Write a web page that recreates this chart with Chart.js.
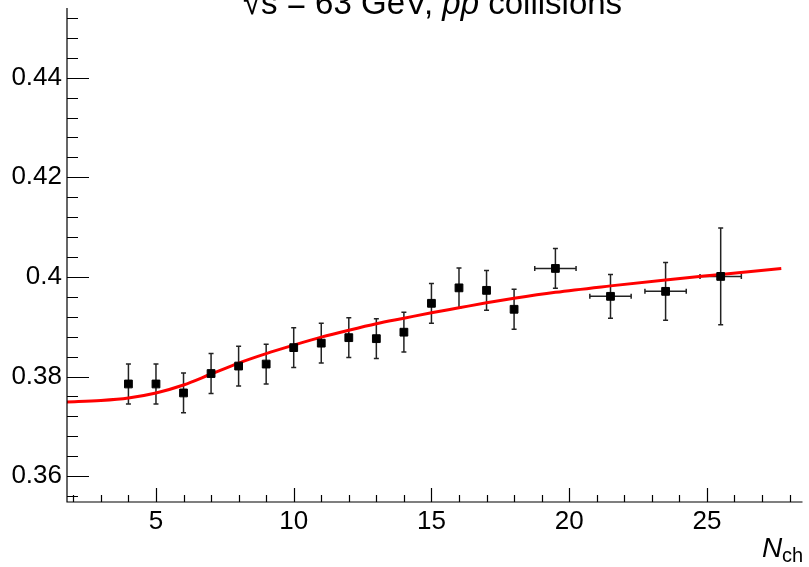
<!DOCTYPE html>
<html>
<head>
<meta charset="utf-8">
<script src="https://cdn.jsdelivr.net/npm/chart.js@4.4.1/dist/chart.umd.min.js"></script>
<style>
  body { margin: 0; background: #fff; }
  canvas { display: block; }
</style>
</head>
<body>
<canvas id="myChart" width="809" height="567"></canvas>
<script>
/*---------------------------------------------------------------*/
/*----------------------------- data ----------------------------*/
/*---------------------------------------------------------------*/
// measured points (N_ch bins)
const nch    = [4, 5, 6, 7, 8, 9, 10, 11, 12, 13, 14, 15, 16, 17, 18, 19.5, 21.5, 23.5, 25.5];
const ratio  = [0.3785, 0.3785, 0.3767, 0.3806, 0.3821, 0.3825, 0.3858, 0.3867, 0.3878, 0.3876,
                0.3889, 0.3947, 0.3978, 0.3973, 0.3935, 0.4017, 0.3961, 0.3971, 0.4001];
const ratioErr = [0.004, 0.004, 0.004, 0.004, 0.004, 0.004, 0.004, 0.004, 0.004, 0.004,
                  0.004, 0.004, 0.004, 0.004, 0.004, 0.004, 0.0044, 0.0058, 0.0097];
const nchErr = [0, 0, 0, 0, 0, 0, 0, 0, 0, 0, 0, 0, 0, 0, 0, 0.75, 0.75, 0.75, 0.75];

// model curve
const fitX = [1.77, 3, 4, 5, 6, 7, 8, 9, 10, 11, 12, 13, 14, 15, 16, 17, 18, 19.5, 21.5, 23.5, 25.5, 27.7];
const fitY = [0.3749, 0.3752, 0.3757, 0.3767, 0.3783, 0.3805, 0.3827, 0.3846, 0.3863,
              0.3879, 0.3893, 0.3906, 0.3917, 0.3928, 0.3938, 0.3948, 0.3957, 0.3969, 0.3982, 0.3994, 0.4005, 0.4017];

// axis labels
const xTicks = [5, 10, 15, 20, 25];
const yTicks = [0.36, 0.38, 0.40, 0.42, 0.44];

const FONT = '"Liberation Sans", Arial, Helvetica, sans-serif';

/*---------------------------------------------------------------*/
/*--------------------------- plugins ---------------------------*/
/*---------------------------------------------------------------*/
// error bars under the markers
const errorBars = {
    id: 'errorBars',
    beforeDatasetsDraw(chart) {
        const ctx = chart.ctx;
        const xs = chart.scales.x, ys = chart.scales.y;
        ctx.save();
        ctx.strokeStyle = '#222';
        ctx.lineWidth = 1.5;
        const cap = 2.5;
        nch.forEach((x, i) => {
            const px = xs.getPixelForValue(x);
            const py = ys.getPixelForValue(ratio[i]);
            const top = ys.getPixelForValue(ratio[i] + ratioErr[i]);
            const bot = ys.getPixelForValue(ratio[i] - ratioErr[i]);
            ctx.beginPath();
            ctx.moveTo(px, top); ctx.lineTo(px, bot);
            ctx.moveTo(px - cap, top); ctx.lineTo(px + cap, top);
            ctx.moveTo(px - cap, bot); ctx.lineTo(px + cap, bot);
            if (nchErr[i] > 0) {
                const l = xs.getPixelForValue(x - nchErr[i]);
                const r = xs.getPixelForValue(x + nchErr[i]);
                ctx.moveTo(l, py); ctx.lineTo(r, py);
                ctx.moveTo(l, py - cap); ctx.lineTo(l, py + cap);
                ctx.moveTo(r, py - cap); ctx.lineTo(r, py + cap);
            }
            ctx.stroke();
        });
        ctx.restore();
    }
};

// axis lines with inward ticks, title and axis title
const frame = {
    id: 'frame',
    afterDraw(chart) {
        const ctx = chart.ctx;
        const xs = chart.scales.x, ys = chart.scales.y;
        const a = chart.chartArea;
        ctx.save();
        ctx.strokeStyle = '#000';
        ctx.lineWidth = 1.2;
        ctx.beginPath();
        ctx.moveTo(a.left, a.top); ctx.lineTo(a.left, a.bottom); ctx.lineTo(a.right, a.bottom);
        // x ticks every 1, major every 5
        for (let k = 2; k <= 28; k++) {
            const px = Math.round(xs.getPixelForValue(k)) + 0.5;
            const len = (k % 5 === 0) ? 14 : 7;
            ctx.moveTo(px, a.bottom); ctx.lineTo(px, a.bottom - len);
        }
        // y ticks every 0.004, major every 0.02
        for (let k = 89; k <= 113; k++) {
            const py = Math.round(ys.getPixelForValue(k * 0.004)) + 0.5;
            const len = (k % 5 === 0) ? 22 : 11;
            ctx.moveTo(a.left, py); ctx.lineTo(a.left + len, py);
        }
        ctx.stroke();

        // title
        ctx.fillStyle = '#000';
        ctx.textBaseline = 'alphabetic';
        const parts = [
            ['s = 63 GeV, ', false],
            ['pp', true],
            [' collisions', false]
        ];
        let x = 261;
        ctx.font = '33px ' + FONT;
        ctx.textAlign = 'right';
        ctx.fillText('\u221A', x, 14);
        ctx.textAlign = 'left';
        parts.forEach(([t, it]) => {
            ctx.font = (it ? 'italic ' : '') + '33px ' + FONT;
            ctx.fillText(t, x, 14);
            x += ctx.measureText(t).width;
        });

        // x axis title
        ctx.font = 'italic 28px ' + FONT;
        ctx.fillText('N', 762, 557);
        ctx.font = '20px ' + FONT;
        ctx.fillText('ch', 782, 562);
        ctx.restore();
    }
};

// keep the plot frame fixed: no extra room for edge labels
const noEdgePad = s => {
    s.paddingTop = 0; s.paddingBottom = 0;
    s.paddingLeft = 0; s.paddingRight = 0;
};

/*---------------------------------------------------------------*/
/*----------------------------- chart ---------------------------*/
/*---------------------------------------------------------------*/
const data = {
    datasets: [{
        label: 'data',
        data: nch.map((x, i) => ({ x: x, y: ratio[i] })),
        pointStyle: 'rect',
        pointRadius: 5.5,
        backgroundColor: '#000',
        borderColor: '#000',
        borderWidth: 1,
        showLine: false,
        order: 0
    }, {
        label: 'model',
        data: fitX.map((x, i) => ({ x: x, y: fitY[i] })),
        showLine: true,
        borderColor: '#ff0000',
        borderWidth: 3,
        pointRadius: 0,
        cubicInterpolationMode: 'monotone',
        fill: false,
        order: 1
    }]
};

const config = {
    type: 'scatter',
    data: data,
    options: {
        responsive: false,
        animation: false,
        layout: { padding: { top: 8, right: 3, left: 0, bottom: 0 } },
        plugins: {
            legend: { display: false },
            tooltip: { enabled: false }
        },
        scales: {
            x: {
                type: 'linear',
                min: 1.77,
                max: 28.47,
                grid: { display: false, drawTicks: false },
                border: { display: false },
                afterBuildTicks: s => { s.ticks = xTicks.map(v => ({ value: v })); },
                afterFit: s => { s.height = 65; noEdgePad(s); },
                ticks: {
                    padding: 4,
                    color: '#000',
                    font: { family: FONT, size: 26 },
                    callback: v => String(v)
                }
            },
            y: {
                type: 'linear',
                min: 0.3548,
                max: 0.454,
                grid: { display: false, drawTicks: false },
                border: { display: false },
                afterBuildTicks: s => { s.ticks = yTicks.map(v => ({ value: v })); },
                afterFit: s => { s.width = 67; noEdgePad(s); },
                ticks: {
                    padding: 5,
                    color: '#000',
                    font: { family: FONT, size: 26 },
                    callback: v => String(+v.toFixed(2))
                }
            }
        }
    },
    plugins: [errorBars, frame]
};

const myChart = new Chart(document.getElementById('myChart'), config);
</script>
</body>
</html>
